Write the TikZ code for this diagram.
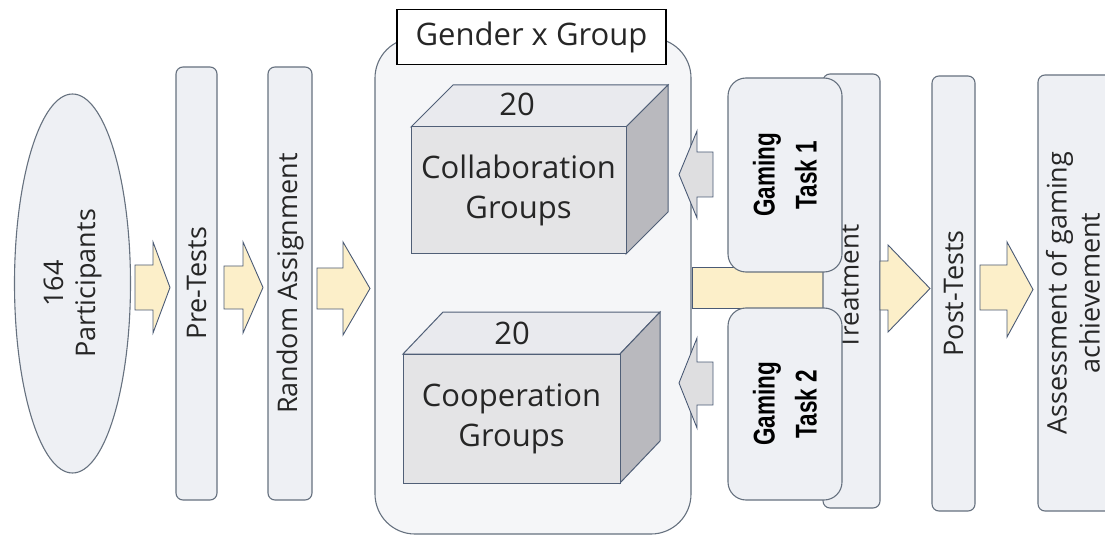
\documentclass[tikz,border=0pt]{standalone}
\usepackage{fontspec}
\setmainfont{Open Sans}
\newfontfamily\arialb{Liberation Sans}
\usetikzlibrary{shapes.geometric}
\definecolor{boxfill}{HTML}{EEF0F4}
\definecolor{boxline}{HTML}{66717F}
\definecolor{yel}{HTML}{FCEFC9}
\definecolor{arrline}{HTML}{4A5A75}
\definecolor{grayarr}{HTML}{DEDEE0}
\definecolor{cubefront}{HTML}{E4E4E6}
\definecolor{cubetop}{HTML}{E9EAEE}
\definecolor{cubeside}{HTML}{B9B9BE}
\definecolor{txt}{HTML}{262626}
\newcommand{\narrowtxt}[1]{\scalebox{0.75}[1]{#1}}
\begin{document}
\begin{tikzpicture}[x=1pt,y=-1pt,
  vbox/.style={draw=boxline, line width=1.1pt, fill=boxfill, rounded corners=7pt, rotate=90, inner sep=0pt, text=txt, font=\fontsize{27}{30}\selectfont},
  vtext/.style={rotate=90, inner sep=0pt, text=txt},
  yarrow/.style={draw=arrline, line width=0.9pt, fill=yel},
  garrow/.style={draw=arrline, line width=0.9pt, fill=grayarr},
  cubeline/.style={draw=arrline!80!boxline, line width=1pt},
  gtask/.style={draw=boxline, line width=1.1pt, fill=boxfill, rounded corners=18pt, rotate=90, inner sep=0pt, align=center, font=\arialb\bfseries\fontsize{30}{42}\selectfont, text=black}
]
\useasboundingbox (0,0) rectangle (1105,537);
\clip (0,0) rectangle (1105,537);
% participants ellipse
\node[ellipse, draw=boxline, line width=1.1pt, fill=boxfill, rotate=90, minimum width=379pt, minimum height=116pt, inner sep=0pt, align=center, text=txt, font=\fontsize{27}{32}\selectfont] (part) at (72.5,283.5) {164\\Participants};
% vertical boxes
\node[vbox, minimum width=433pt, minimum height=41pt] (pre) at (196.5,283.5) {Pre-Tests};
\node[vbox, minimum width=433pt, minimum height=44pt] (rand) at (290,283.5) {Random Assignment};
% yellow arrows left part
\draw[yarrow] (135,265) -- (153,265) -- (153,242) -- (170,287.5) -- (153,333) -- (153,310) -- (135,310) -- cycle;
\draw[yarrow] (224,266) -- (243,266) -- (243,242) -- (263,287.5) -- (243,333) -- (243,309) -- (224,309) -- cycle;
\draw[yarrow] (317,268) -- (343,268) -- (343,242) -- (370,288.5) -- (343,335) -- (343,309) -- (317,309) -- cycle;
% container
\node[draw=boxline, line width=1.1pt, fill=boxfill!60!white, rounded corners=40pt, minimum width=316pt, minimum height=496pt, inner sep=0pt] (cont) at (533,286) {};
\node[draw=black, line width=1.1pt, fill=white, minimum width=269pt, minimum height=55pt, inner sep=0pt, text=txt, font=\fontsize{31}{34}\selectfont] (lab) at (531.5,37) {Gender x Group};
% collaboration cube
\filldraw[cubeline, fill=cubetop] (411,127) -- (453,85) -- (668,85) -- (626,127) -- cycle;
\filldraw[cubeline, fill=cubeside] (626,127) -- (668,85) -- (668,212) -- (626,254) -- cycle;
\node[cubeline, fill=cubefront, minimum width=215pt, minimum height=127pt, inner sep=0pt, align=center, text=txt, font=\fontsize{31}{40}\selectfont] (coll) at (518.5,190.5) {Collaboration\\Groups};
\node[inner sep=0pt, text=txt, font=\fontsize{31}{34}\selectfont] (n1) at (517,104) {20};
% cooperation cube
\filldraw[cubeline, fill=cubetop] (403,354) -- (443,312) -- (660,312) -- (620,354) -- cycle;
\filldraw[cubeline, fill=cubeside] (620,354) -- (660,312) -- (660,441) -- (620,483) -- cycle;
\node[cubeline, fill=cubefront, minimum width=217pt, minimum height=129pt, inner sep=0pt, align=center, text=txt, font=\fontsize{31}{40}\selectfont] (coop) at (511.5,418.5) {Cooperation\\Groups};
\node[inner sep=0pt, text=txt, font=\fontsize{31}{34}\selectfont] (n2) at (512,333) {20};
% shaft to treatment
\draw[yarrow] (692,267) rectangle (823,308);
% treatment
\node[vbox, minimum width=434pt, minimum height=57pt] (treat) at (851.5,291) {};
\node[vtext, font=\fontsize{26}{30}\selectfont] (treattxt) at (849.5,287) {Treatment};
% gaming tasks
\node[gtask, minimum width=194pt, minimum height=114pt] (g1) at (785,175) {\narrowtxt{Gaming}\\\narrowtxt{Task 1}};
\node[gtask, minimum width=192pt, minimum height=114pt] (g2) at (785,404) {\narrowtxt{Gaming}\\\narrowtxt{Task 2}};
% gray arrows
\draw[garrow] (713,152) -- (697,152) -- (697,131) -- (679,174.5) -- (697,218) -- (697,197) -- (713,197) -- cycle;
\draw[garrow] (713,362) -- (697,362) -- (697,338) -- (679,383) -- (697,428) -- (697,405) -- (713,405) -- cycle;
% right part
\draw[yarrow] (880,261) -- (888,261) -- (888,245) -- (930,288.5) -- (888,332) -- (888,310) -- (880,310) -- cycle;
\node[vbox, minimum width=435pt, minimum height=43pt] (post) at (953.5,293.5) {Post-Tests};
\draw[yarrow] (980,265) -- (1007,265) -- (1007,242) -- (1033,289.5) -- (1007,337) -- (1007,310) -- (980,310) -- cycle;
\node[vbox, minimum width=436pt, minimum height=82pt] (assess) at (1079,293) {};
\node[vtext, align=center, font=\fontsize{27}{33}\selectfont] (assesstxt) at (1073,293) {Assessment of gaming\\achievement};
\end{tikzpicture}
\end{document}
